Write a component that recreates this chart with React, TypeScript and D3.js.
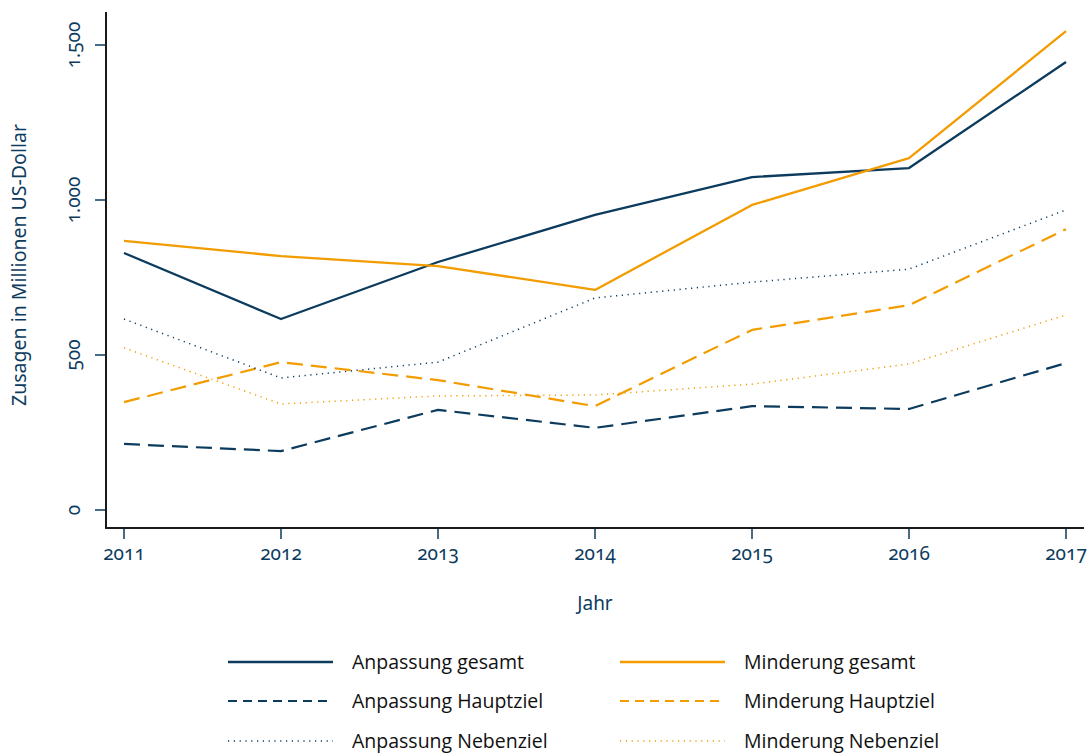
import React from "react";
import * as d3 from "d3";

const years = [2011, 2012, 2013, 2014, 2015, 2016, 2017];
const anpassungGesamt = [829, 616, 800, 952, 1074, 1103, 1445];
const minderungGesamt = [868, 819, 787, 710, 984, 1135, 1545];
const anpassungHauptziel = [213, 190, 323, 265, 335, 326, 474];
const minderungHauptziel = [348, 477, 419, 335, 581, 661, 906];
const anpassungNebenziel = [616, 426, 477, 684, 735, 777, 968];
const minderungNebenziel = [523, 342, 368, 371, 406, 471, 629];
const yTicks = [0, 500, 1000, 1500];

const NAVY = "#0c3b5e";
const ORANGE = "#f29c00";

const series = [
  { name: "Anpassung gesamt", values: anpassungGesamt, color: NAVY, style: "solid" },
  { name: "Minderung gesamt", values: minderungGesamt, color: ORANGE, style: "solid" },
  { name: "Anpassung Hauptziel", values: anpassungHauptziel, color: NAVY, style: "dash" },
  { name: "Minderung Hauptziel", values: minderungHauptziel, color: ORANGE, style: "dash" },
  { name: "Anpassung Nebenziel", values: anpassungNebenziel, color: NAVY, style: "dot" },
  { name: "Minderung Nebenziel", values: minderungNebenziel, color: ORANGE, style: "dot" },
];

const W = 1089;
const H = 753;
const axisLeft = 106;
const axisRight = 1084;
const axisTop = 12;
const axisBottom = 528;

const x = d3.scaleLinear().domain([2011, 2017]).range([124, 1066]);
const y = d3.scaleLinear().domain([0, 1500]).range([510, 45]);

const numFont = "'Noto Sans', 'Open Sans', sans-serif";
const legFont = "'Open Sans', 'Noto Sans', sans-serif";

function fmt(v: number) {
  return v.toString().replace(/\B(?=(\d{3})+(?!\d))/g, ".");
}

function lineStyle(style: string, legend = false) {
  if (style === "dash") return { strokeDasharray: legend ? "9 6" : "16 8", strokeWidth: 2.2 };
  if (style === "dot") return { strokeDasharray: "1.2 4.6", strokeWidth: 1.5 };
  return { strokeDasharray: undefined, strokeWidth: 2.3 };
}

export default function App() {
  const line = d3
    .line<number>()
    .x((_, i) => x(years[i]))
    .y((d) => y(d));

  const legendY = [662, 701, 741];
  const legendX = [228, 620];

  return (
    <svg width={W} height={H} style={{ display: "block", position: "absolute", left: 0, top: 0 }}>
      <rect width={W} height={H} fill="#fff" />
      {series.map((s) => {
        const st = lineStyle(s.style);
        return (
          <path
            key={s.name}
            d={line(s.values) || ""}
            fill="none"
            stroke={s.color}
            strokeWidth={st.strokeWidth}
            strokeDasharray={st.strokeDasharray}
            strokeLinejoin="round"
          />
        );
      })}
      <line x1={axisLeft} x2={axisLeft} y1={axisTop} y2={axisBottom + 1} stroke="#1a1a1a" strokeWidth={2} />
      <line x1={axisLeft - 1} x2={axisRight} y1={axisBottom} y2={axisBottom} stroke="#1a1a1a" strokeWidth={2} />
      {yTicks.map((t) => (
        <g key={t}>
          <line x1={axisLeft - 11} x2={axisLeft - 1} y1={y(t)} y2={y(t)} stroke={NAVY} strokeWidth={1.5} />
          <text
            transform={`translate(${80},${y(t)}) rotate(-90)`}
            textAnchor="middle"
            fontFamily={numFont}
            fontSize={19}
            fill={NAVY}
            style={{ fontVariantNumeric: "oldstyle-nums" }}
          >
            {fmt(t)}
          </text>
        </g>
      ))}
      {years.map((yr) => (
        <g key={yr}>
          <line x1={x(yr)} x2={x(yr)} y1={axisBottom + 1} y2={axisBottom + 11} stroke={NAVY} strokeWidth={1.5} />
          <text
            x={x(yr)}
            y={560}
            textAnchor="middle"
            fontFamily={numFont}
            fontSize={19}
            fill={NAVY}
            style={{ fontVariantNumeric: "oldstyle-nums" }}
          >
            {yr}
          </text>
        </g>
      ))}
      <text x={595} y={610} textAnchor="middle" fontFamily={numFont} fontSize={19} fill={NAVY}>
        Jahr
      </text>
      <text
        transform={`translate(26,265) rotate(-90)`}
        textAnchor="middle"
        fontFamily={numFont}
        fontSize={19.5}
        fill={NAVY}
      >
        Zusagen in Millionen US-Dollar
      </text>
      {series.map((s, i) => {
        const col = i % 2;
        const row = Math.floor(i / 2);
        const st = lineStyle(s.style, true);
        const ly = legendY[row];
        const lx = legendX[col];
        return (
          <g key={"leg" + s.name}>
            <line
              x1={lx}
              x2={lx + 105}
              y1={ly}
              y2={ly}
              stroke={s.color}
              strokeWidth={st.strokeWidth}
              strokeDasharray={st.strokeDasharray}
            />
            <text x={lx + 124} y={ly + 7} fontFamily={legFont} fontSize={19.5} fill="#111">
              {s.name}
            </text>
          </g>
        );
      })}
    </svg>
  );
}
